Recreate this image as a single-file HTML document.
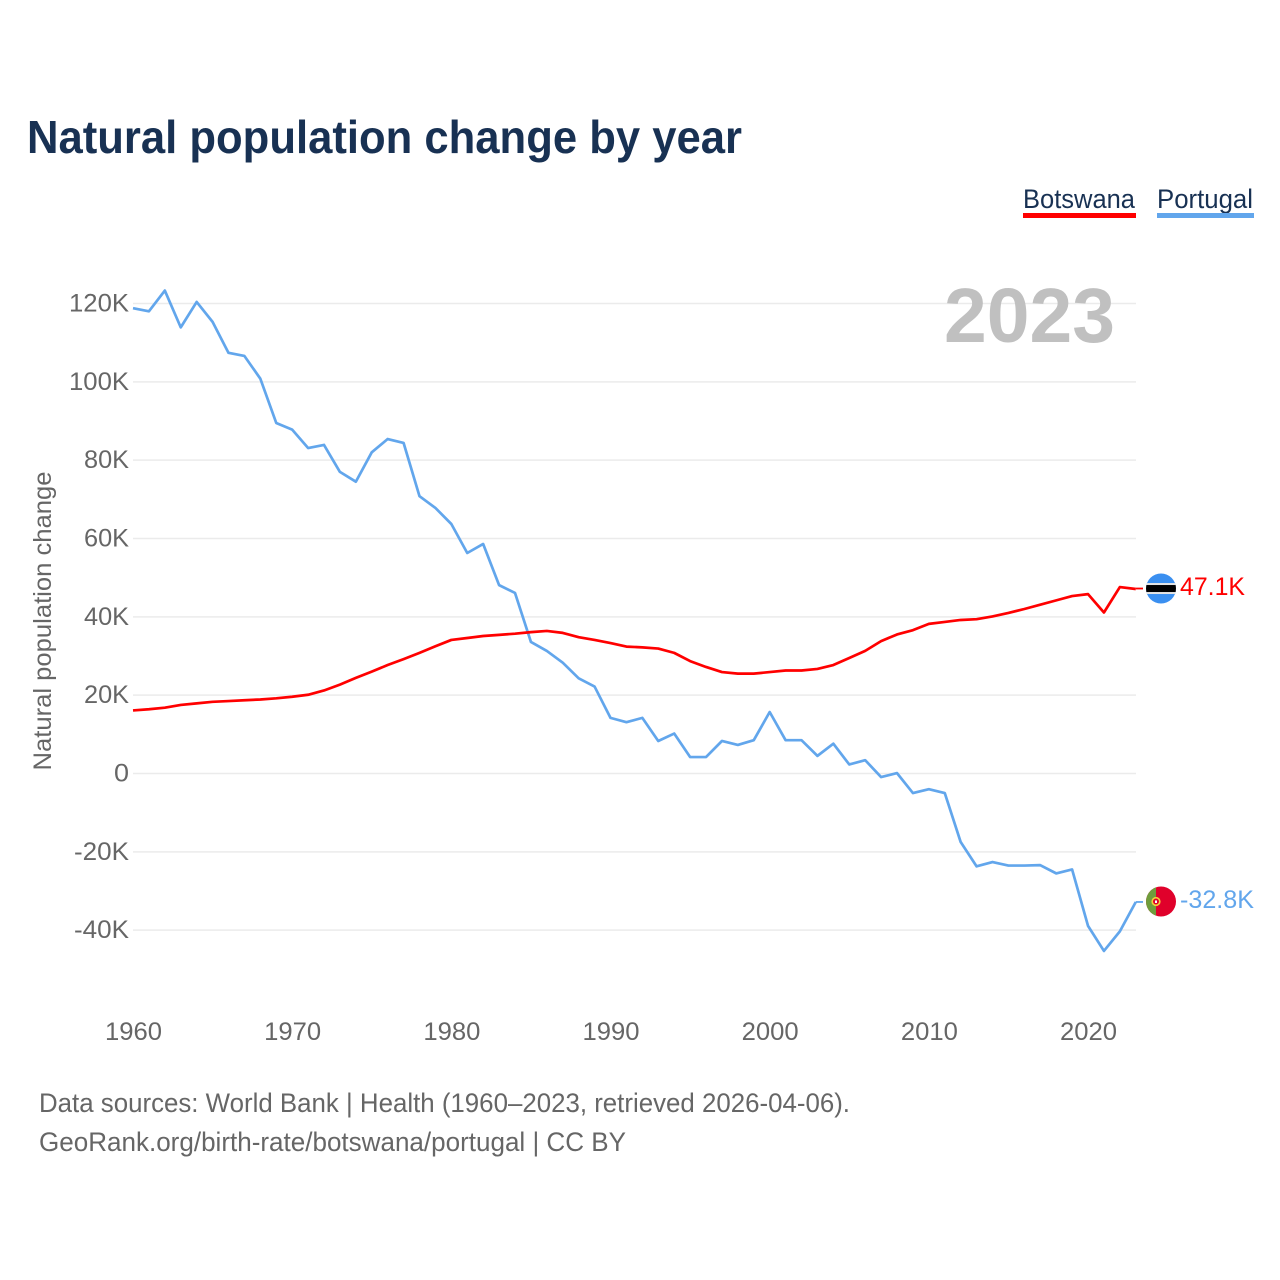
<!DOCTYPE html>
<html lang="en">
<head>
<meta charset="utf-8">
<title>Natural population change by year</title>
<style>
html,body{margin:0;padding:0;background:#fff;}
svg{display:block;font-family:"Liberation Sans",sans-serif;}
</style>
</head>
<body>
<svg id="chart" xmlns="http://www.w3.org/2000/svg" width="1280" height="1280" viewBox="0 0 1280 1280">
  <rect width="1280" height="1280" fill="#ffffff"/>
  <text x="27" y="153" font-size="46" font-weight="700" fill="#183153" textLength="715" lengthAdjust="spacingAndGlyphs">Natural population change by year</text>
  <g>
    <g>
      <text x="1023" y="208" font-size="27" fill="#183153" textLength="112" lengthAdjust="spacingAndGlyphs">Botswana</text>
      <rect x="1023" y="213" width="113" height="5" fill="#ff0000"/>
    </g>
    <g>
      <text x="1157" y="208" font-size="27" fill="#183153" textLength="96" lengthAdjust="spacingAndGlyphs">Portugal</text>
      <rect x="1157" y="213" width="97" height="5" fill="#62a6ec"/>
    </g>
  </g>
  <g id="grid"></g>
  <g id="yticks"></g>
  <g id="xticks"></g>
  <text transform="translate(51,621) rotate(-90)" text-anchor="middle" font-size="25" fill="#666666" textLength="299" lengthAdjust="spacingAndGlyphs">Natural population change</text>
  <text x="944" y="342" font-size="77" font-weight="700" fill="#c0c0c0" textLength="171" lengthAdjust="spacingAndGlyphs">2023</text>
  <g id="series"></g>
  <g id="ends"></g>
  <g>
    <text x="39" y="1112" font-size="27" fill="#666666" textLength="811" lengthAdjust="spacingAndGlyphs">Data sources: World Bank | Health (1960–2023, retrieved 2026-04-06).</text>
    <text x="39" y="1151" font-size="27" fill="#666666" textLength="587" lengthAdjust="spacingAndGlyphs">GeoRank.org/birth-rate/botswana/portugal | CC BY</text>
  </g>
</svg>
<script>
const startYear = 1960;
const xTickYears = [1960, 1970, 1980, 1990, 2000, 2010, 2020];
const yTickValues = [120, 100, 80, 60, 40, 20, 0, -20, -40];
const botswanaValues = [16.1,16.4,16.8,17.5,17.9,18.3,18.5,18.7,18.9,19.2,19.6,20.1,21.2,22.7,24.4,26.0,27.7,29.2,30.8,32.5,34.1,34.6,35.1,35.4,35.7,36.1,36.4,35.9,34.8,34.1,33.3,32.4,32.2,31.9,30.8,28.7,27.2,25.9,25.5,25.5,25.9,26.3,26.3,26.7,27.7,29.5,31.3,33.8,35.5,36.6,38.2,38.7,39.2,39.4,40.1,41.0,42.0,43.1,44.2,45.3,45.8,41.1,47.6,47.1];
const portugalValues = [118.8,118.0,123.3,113.9,120.4,115.3,107.4,106.6,100.8,89.5,87.8,83.1,83.9,77.0,74.5,82.0,85.4,84.4,70.8,67.8,63.7,56.3,58.6,48.1,46.1,33.6,31.3,28.3,24.3,22.2,14.2,13.1,14.2,8.3,10.2,4.2,4.2,8.3,7.3,8.5,15.7,8.5,8.5,4.5,7.6,2.3,3.4,-0.9,0.1,-5.0,-4.0,-5.0,-17.5,-23.7,-22.6,-23.5,-23.5,-23.4,-25.5,-24.5,-38.9,-45.3,-40.3,-32.8];

const NS = 'http://www.w3.org/2000/svg';
const xScale = y => 133 + (y - 1960) * 15.917;
const yScale = v => 773.5 - v * 3.9167;
function mk(tag, attrs, parent, txt) {
  const el = document.createElementNS(NS, tag);
  for (const k in attrs) el.setAttribute(k, attrs[k]);
  if (txt !== undefined) el.textContent = txt;
  parent.appendChild(el);
  return el;
}
function fmt(v) { return v === 0 ? '0' : v + 'K'; }

const grid = document.getElementById('grid');
const yticks = document.getElementById('yticks');
yTickValues.forEach(v => {
  const line = mk('line', {x1: 133, x2: 1136, y1: yScale(v), y2: yScale(v), stroke: '#ebebeb', 'stroke-width': 1.5}, grid);
  
  
  const s = fmt(v);
  const t = mk('text', {x: 129, y: yScale(v) + 8, 'text-anchor': 'end', 'font-size': 25, fill: '#666666'}, yticks, s);
  t.setAttribute('textLength', s.replace('-', '').length * 15 + (v < 0 ? 10 : 0));
  t.setAttribute('lengthAdjust', 'spacingAndGlyphs');
  
  
});

const xticks = document.getElementById('xticks');
xTickYears.forEach(y => {
  const t = mk('text', {x: xScale(y) + 0.5, y: 1040, 'text-anchor': 'middle', 'font-size': 25, fill: '#666666'}, xticks, String(y));
  t.setAttribute('textLength', 57);
  t.setAttribute('lengthAdjust', 'spacingAndGlyphs');
  
  
});

const series = document.getElementById('series');
function drawLine(vals, color) {
  const d = vals.map((v, i) => (i ? 'L' : 'M') + xScale(startYear + i).toFixed(2) + ' ' + yScale(v).toFixed(2)).join(' ');
  return mk('path', {d: d, fill: 'none', stroke: color, 'stroke-width': 2.7, 'stroke-linejoin': 'round'}, series);
}
const portugalLine = drawLine(portugalValues, '#62a6ec');


const botswanaLine = drawLine(botswanaValues, '#ff0000');



const ends = document.getElementById('ends');
const lastX = xScale(startYear + botswanaValues.length - 1);
function label(v) { return v.toFixed(1) + 'K'; }

// Botswana end marker
const bv = botswanaValues[botswanaValues.length - 1];
const by = yScale(bv);
const bConn = mk('line', {x1: lastX, x2: 1143, y1: by - 0.5, y2: by - 0.5, stroke: '#ff0000', 'stroke-width': 1.8}, ends);


const bFlag = mk('g', {}, ends);


const bClip = mk('clipPath', {id: 'clip-b'}, bFlag);
mk('circle', {cx: 1161, cy: by - 0.5, r: 15}, bClip);
const bG = mk('g', {'clip-path': 'url(#clip-b)'}, bFlag);
mk('rect', {x: 1146, y: by - 16, width: 30, height: 31, fill: '#3a8ff0'}, bG);
mk('rect', {x: 1146, y: by - 6, width: 30, height: 11, fill: '#e4e4e4'}, bG);
mk('rect', {x: 1146, y: by - 4, width: 30, height: 7, fill: '#000000'}, bG);
const bLabel = mk('text', {x: 1180, y: by + 6, 'font-size': 25, fill: '#ff0000', textLength: 65, lengthAdjust: 'spacingAndGlyphs'}, ends, label(bv));



// Portugal end marker
const pv = portugalValues[portugalValues.length - 1];
const py = yScale(pv);
const pConn = mk('line', {x1: lastX, x2: 1143, y1: py, y2: py, stroke: '#62a6ec', 'stroke-width': 1.8}, ends);


const pFlag = mk('g', {}, ends);


const pClip = mk('clipPath', {id: 'clip-p'}, pFlag);
mk('circle', {cx: 1161, cy: py - 0.5, r: 15}, pClip);
const pG = mk('g', {'clip-path': 'url(#clip-p)'}, pFlag);
mk('rect', {x: 1146, y: py - 16, width: 30, height: 31, fill: '#e0012b'}, pG);
mk('rect', {x: 1146, y: py - 16, width: 10, height: 31, fill: '#6f9d3c'}, pG);
mk('circle', {cx: 1156, cy: py - 0.5, r: 3.8, fill: '#e0012b', stroke: '#f4d03a', 'stroke-width': 1.6}, pG);
mk('rect', {x: 1155, y: py - 1.5, width: 2, height: 2.5, fill: '#ffffff'}, pG);
const pLabel = mk('text', {x: 1180, y: py + 6, 'font-size': 25, fill: '#62a6ec', textLength: 74, lengthAdjust: 'spacingAndGlyphs'}, ends, label(pv));


</script>
</body>
</html>
